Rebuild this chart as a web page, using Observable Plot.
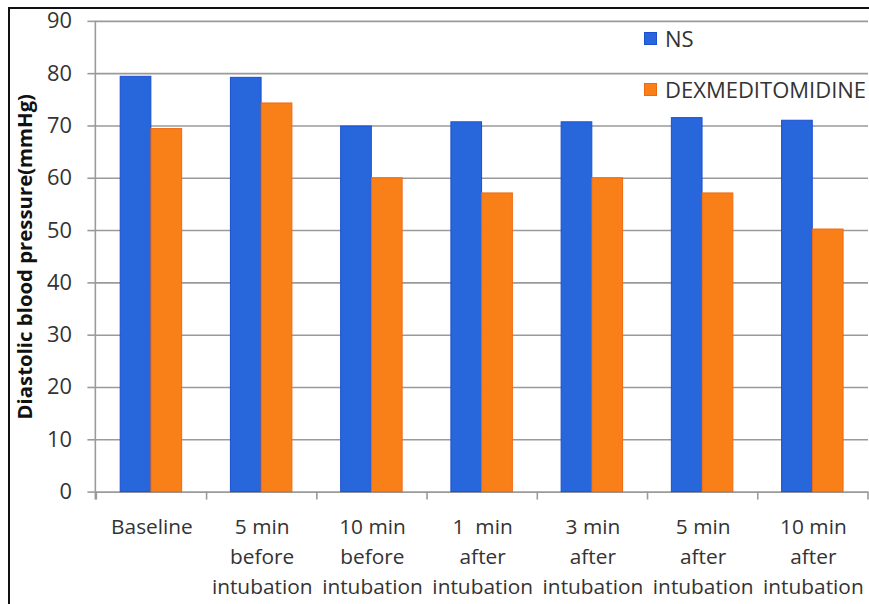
<!DOCTYPE html>
<html>
<head>
<meta charset="utf-8">
<script src="https://cdn.jsdelivr.net/npm/d3@7"></script>
<script src="https://cdn.jsdelivr.net/npm/@observablehq/plot@0.6"></script>
<style>
  html, body { margin: 0; padding: 0; background: #fff; }
  #wrap { position: relative; width: 869px; height: 604px; overflow: hidden; font-family: "Open Sans", sans-serif; }
  #wrap svg { position: absolute; left: 0; top: 0; }
  #frame { position: absolute; left: 8px; top: 7px; right: -10px; bottom: -10px;
           border-left: 2px solid #111; border-top: 2px solid #111; pointer-events: none; }
  #legend { position: absolute; left: 644px; top: 25px; font-size: 22px; color: #333; }
  #legend .item { display: flex; align-items: center; height: 26px; margin-bottom: 25px; white-space: nowrap; }
  #legend .sw { width: 13px; height: 13px; margin-right: 8px; box-sizing: border-box; border: 1px solid; }
</style>
</head>
<body>
<div id="wrap">
  <div id="legend"></div>
  <div id="frame"></div>
</div>
<script>
// Time points (x categories), with line breaks used for the tick labels
const categories = [
  "Baseline",
  "5 min\nbefore\nintubation",
  "10 min\nbefore\nintubation",
  "1\u00a0 min\nafter\nintubation",
  "3 min\nafter\nintubation",
  "5 min\nafter\nintubation",
  "10 min\nafter\nintubation"
];
const series = ["NS", "DEXMEDITOMIDINE"];
// Mean diastolic blood pressure (mmHg) per group
const nsValues  = [79.4, 79.2, 69.9, 70.7, 70.7, 71.5, 71.0];
const dexValues = [69.4, 74.3, 60.0, 57.1, 60.0, 57.1, 50.2];
const yTicks = [0, 10, 20, 30, 40, 50, 60, 70, 80, 90];
const yTitle = "Diastolic blood pressure(mmHg)";

const fills   = {NS: "#2866DC", DEXMEDITOMIDINE: "#F98019"};
const strokes = {NS: "#1C4ED0", DEXMEDITOMIDINE: "#F0680F"};

const nsRows  = categories.map((c, i) => ({category: c, group: series[0], value: nsValues[i]}));
const dexRows = categories.map((c, i) => ({category: c, group: series[1], value: dexValues[i]}));

const axisGray = "#9a9a9a";

// Y axis line and category boundary ticks, both hanging below the zero line
function axisLines(index, scales, values, dimensions) {
  const {x, y} = scales;
  const g = d3.create("svg:g").attr("stroke", axisGray).attr("stroke-width", 1.6);
  const x0 = dimensions.marginLeft;
  const y0 = y(0);
  g.append("line").attr("x1", x0).attr("x2", x0).attr("y1", y(yTicks[yTicks.length - 1])).attr("y2", y0 + 8);
  const bounds = categories.map(c => x(c)).concat([x(categories[categories.length - 1]) + x.bandwidth()]);
  for (const bx of bounds) {
    g.append("line").attr("x1", bx).attr("x2", bx).attr("y1", y0).attr("y2", y0 + 8);
  }
  return g.node();
}

const chart = Plot.plot({
  width: 875,
  height: 604,
  marginLeft: 96,
  marginRight: 1,
  marginTop: 21,
  marginBottom: 109,
  style: {fontFamily: "'Open Sans', sans-serif", background: "transparent", color: "#333"},
  x: {domain: categories, padding: 0, label: null},
  y: {domain: [0, 90], label: null},
  marks: [
    Plot.gridY(yTicks, {stroke: axisGray, strokeOpacity: 1, strokeWidth: 1.6}),
    Plot.barY(nsRows, {
      x: "category", y: "value",
      fill: fills.NS, stroke: strokes.NS, strokeWidth: 1,
      insetLeft: 24, insetRight: 56.1
    }),
    Plot.barY(dexRows, {
      x: "category", y: "value",
      fill: fills.DEXMEDITOMIDINE, stroke: strokes.DEXMEDITOMIDINE, strokeWidth: 1,
      insetLeft: 55, insetRight: 25.1
    }),
    Plot.axisY(yTicks, {
      tickSize: 8, tickPadding: 16, fontSize: 22,
      stroke: axisGray, strokeWidth: 1.6, fill: "#333", label: null
    }),
    Plot.axisX({
      tickSize: 0, tickPadding: 21, fontSize: 21, lineHeight: 1.43,
      fill: "#333", label: null
    }),
    axisLines,
    Plot.text([yTitle], {
      text: d => d, frameAnchor: "left", textAnchor: "middle", rotate: -90, dx: -71,
      fontSize: 20.5, fontWeight: "bold", fill: "#111"
    })
  ]
});

const wrap = document.getElementById("wrap");
wrap.insertBefore(chart, wrap.firstChild);

// Legend: swatch + group name
const legend = d3.select("#legend");
for (const s of series) {
  const item = legend.append("div").attr("class", "item");
  item.append("div").attr("class", "sw")
    .style("background", fills[s]).style("border-color", strokes[s]);
  item.append("span").text(s);
}
</script>
</body>
</html>
